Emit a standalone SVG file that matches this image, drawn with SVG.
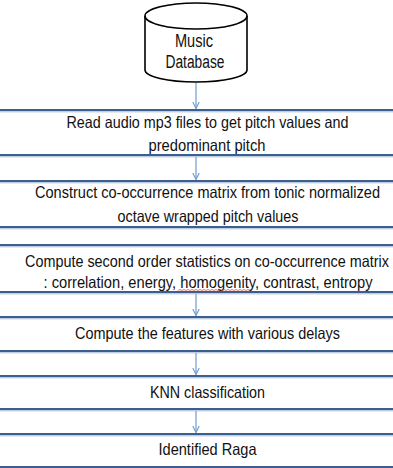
<svg xmlns="http://www.w3.org/2000/svg" width="393" height="468" viewBox="0 0 393 468">
<style>
.bg{fill:#ffffff}
.edge{stroke:#3d5f8e;stroke-width:2;fill:none}
.edge2{stroke:#a3b9d6;stroke-width:1;fill:none}
.t{font-family:"Liberation Sans",Arial,sans-serif;font-size:16.5px;fill:#111111;text-anchor:middle}
.w{font-size:13px}
.conn{stroke:#6e9bd0;stroke-width:1.2;fill:none}
.cyl{fill:#ffffff;stroke:#000000;stroke-width:1.6}
</style>
<defs>
<marker id="arr" viewBox="0 0 10 10" refX="9" refY="5" markerWidth="8" markerHeight="8" markerUnits="userSpaceOnUse" orient="auto">
<path d="M1,1 L9,5 L1,9" fill="none" stroke="#6e9bd0" stroke-width="1.4"/>
</marker>
</defs>
<rect class="bg" x="0" y="0" width="393" height="468"/>

<g id="db">
<path class="cyl" d="M145,16 L145,70 A51,12 0 0 0 247,70 L247,16"/>
<ellipse class="cyl" cx="196" cy="16" rx="51" ry="13"/>
<text class="t" x="194" y="47" textLength="38" lengthAdjust="spacingAndGlyphs" style="font-size:18px">Music</text>
<text class="t" x="195" y="68" textLength="59" lengthAdjust="spacingAndGlyphs" style="font-size:18px">Database</text>
</g>

<g id="n1">
<line class="edge" x1="0" y1="110" x2="393" y2="110"/><line class="edge2" x1="0" y1="111.8" x2="393" y2="111.8"/>
<line class="edge" x1="0" y1="155" x2="393" y2="155"/><line class="edge2" x1="0" y1="156.8" x2="393" y2="156.8"/>
<text class="t" x="207.5" y="128" textLength="282" lengthAdjust="spacingAndGlyphs">Read audio mp3 files to get pitch values and</text>
<text class="t" x="207" y="151" textLength="117" lengthAdjust="spacingAndGlyphs">predominant pitch</text>
</g>

<g id="n2">
<line class="edge" x1="0" y1="181" x2="393" y2="181"/><line class="edge2" x1="0" y1="182.8" x2="393" y2="182.8"/>
<line class="edge" x1="0" y1="227" x2="393" y2="227"/><line class="edge2" x1="0" y1="228.8" x2="393" y2="228.8"/>
<text class="t w" transform="translate(207.5,198) scale(1,1.27)" x="0" y="0" textLength="345" lengthAdjust="spacingAndGlyphs">Construct co-occurrence matrix from tonic normalized</text>
<text class="t" x="208" y="222" textLength="181" lengthAdjust="spacingAndGlyphs">octave wrapped pitch values</text>
</g>

<g id="n3">
<line class="edge" x1="0" y1="245" x2="393" y2="245"/><line class="edge2" x1="0" y1="246.8" x2="393" y2="246.8"/>
<line class="edge" x1="0" y1="292" x2="393" y2="292"/><line class="edge2" x1="0" y1="293.8" x2="393" y2="293.8"/>
<text class="t w" transform="translate(207,267) scale(1,1.27)" x="0" y="0" textLength="364" lengthAdjust="spacingAndGlyphs">Compute second order statistics on co-occurrence matrix</text>
<text class="t w" transform="translate(208,288) scale(1,1.27)" x="0" y="0" textLength="329" lengthAdjust="spacingAndGlyphs">: correlation, energy, homogenity, contrast, entropy</text>
<path d="M178,290.5 l2,-1 l2,1 l2,-1 l2,1 l2,-1 l2,1 l2,-1 l2,1 l2,-1 l2,1 l2,-1 l2,1 l2,-1 l2,1 l2,-1 l2,1 l2,-1 l2,1 l2,-1 l2,1 l2,-1 l2,1 l2,-1 l2,1 l2,-1 l2,1 l2,-1 l2,1 l2,-1 l2,1 l2,-1 l2,1 l2,-1 l2,1 l2,-1 l2,1" fill="none" stroke="#e05050" stroke-width="0.8"/>
</g>

<g id="n4">
<line class="edge" x1="0" y1="317" x2="393" y2="317"/><line class="edge2" x1="0" y1="318.8" x2="393" y2="318.8"/>
<line class="edge" x1="0" y1="351" x2="393" y2="351"/><line class="edge2" x1="0" y1="352.8" x2="393" y2="352.8"/>
<text class="t" x="207.5" y="339" textLength="265" lengthAdjust="spacingAndGlyphs">Compute the features with various delays</text>
</g>

<g id="n5">
<line class="edge" x1="0" y1="376" x2="393" y2="376"/><line class="edge2" x1="0" y1="377.8" x2="393" y2="377.8"/>
<line class="edge" x1="0" y1="409" x2="393" y2="409"/><line class="edge2" x1="0" y1="410.8" x2="393" y2="410.8"/>
<text class="t" x="207.5" y="398" textLength="115" lengthAdjust="spacingAndGlyphs">KNN classification</text>
</g>

<g id="n6">
<line class="edge" x1="0" y1="434" x2="393" y2="434"/><line class="edge2" x1="0" y1="435.8" x2="393" y2="435.8"/>
<line class="edge" x1="0" y1="467" x2="393" y2="467"/><line class="edge2" x1="0" y1="468.8" x2="393" y2="468.8"/>
<text class="t" x="207.5" y="455" textLength="98" lengthAdjust="spacingAndGlyphs">Identified Raga</text>
</g>

<g id="connectors">
<line class="conn" x1="196" y1="83" x2="196" y2="108.5" marker-end="url(#arr)"/>
<line class="conn" x1="196" y1="157" x2="196" y2="179.5" marker-end="url(#arr)"/>
<line class="conn" x1="196" y1="294" x2="196" y2="315.5" marker-end="url(#arr)"/>
<line class="conn" x1="196" y1="353" x2="196" y2="374.5" marker-end="url(#arr)"/>
<line class="conn" x1="196" y1="411" x2="196" y2="432.5" marker-end="url(#arr)"/>
</g>
</svg>
